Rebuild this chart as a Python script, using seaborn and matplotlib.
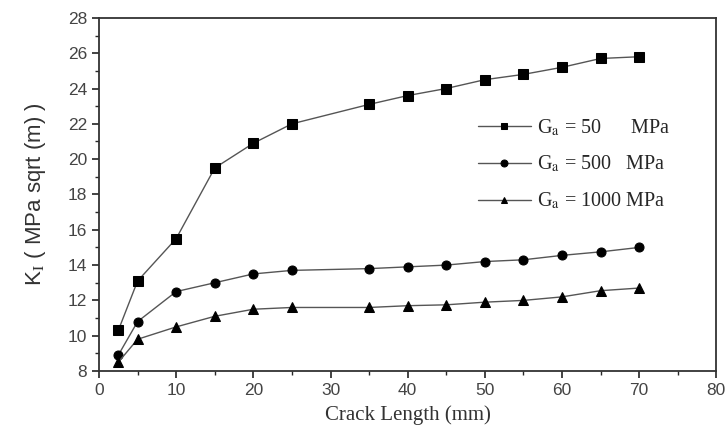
import matplotlib
matplotlib.use("Agg")
import matplotlib.pyplot as plt
import seaborn as sns
import pandas as pd
from matplotlib.ticker import MultipleLocator

crack_length = [2.5, 5, 10, 15, 20, 25, 35, 40, 45, 50, 55, 60, 65, 70]
k_ga50 = [10.3, 13.1, 15.5, 19.5, 20.9, 22.0, 23.1, 23.6, 24.0, 24.5, 24.8, 25.2, 25.7, 25.8]
k_ga500 = [8.9, 10.8, 12.5, 13.0, 13.5, 13.7, 13.8, 13.9, 14.0, 14.2, 14.3, 14.55, 14.75, 15.0]
k_ga1000 = [8.5, 9.8, 10.5, 11.1, 11.5, 11.6, 11.6, 11.7, 11.75, 11.9, 12.0, 12.2, 12.55, 12.7]
series_labels = [r"G$_\mathrm{a}$ = 50      MPa", r"G$_\mathrm{a}$ = 500   MPa", r"G$_\mathrm{a}$ = 1000 MPa"]
markers = ["s", "o", "^"]

x_ticks = [0, 10, 20, 30, 40, 50, 60, 70, 80]
y_ticks = [8, 10, 12, 14, 16, 18, 20, 22, 24, 26, 28]

sns.set_theme(style="ticks")
plt.rcParams["mathtext.fontset"] = "stix"

fig = plt.figure(figsize=(7.28, 4.36), dpi=100)
ax = fig.add_axes([0.136, 0.149, 0.848, 0.81])

for vals, lab, mk in zip([k_ga50, k_ga500, k_ga1000], series_labels, markers):
    df = pd.DataFrame({"x": crack_length, "y": vals})
    sns.lineplot(data=df, x="x", y="y", ax=ax, color="#555555", linewidth=1.0,
                 marker=mk, markersize=6.5, markerfacecolor="black",
                 markeredgecolor="black", label=lab)

ax.set_xlim(0, 80)
ax.set_ylim(8, 28)
ax.set_xticks(x_ticks)
ax.set_yticks(y_ticks)
ax.xaxis.set_minor_locator(MultipleLocator(5))
ax.yaxis.set_minor_locator(MultipleLocator(1))
ax.tick_params(axis="both", which="major", direction="out", length=5, width=1.2,
               labelsize=12.5, colors="#222222", labelcolor="#444444", top=False, right=False)
ax.tick_params(axis="both", which="minor", direction="out", length=3, width=1.0,
               top=False, right=False)
for lab in ax.get_xticklabels() + ax.get_yticklabels():
    lab.set_family(["Liberation Sans", "DejaVu Sans"])

for s in ax.spines.values():
    s.set_visible(True)
    s.set_linewidth(1.3)
    s.set_color("#333333")

ax.set_xlabel("Crack Length (mm)", fontsize=15, family="Liberation Serif", color="#333333", labelpad=5)
ax.set_ylabel(r"K$_\mathrm{I}$ ( MPa sqrt (m) )", fontsize=16, family="Liberation Sans", color="#333333", labelpad=14)

leg = ax.legend(loc="center left", bbox_to_anchor=(0.585, 0.585), frameon=False,
                prop={"family": "Liberation Serif", "size": 14.5}, handlelength=2.6,
                handletextpad=0.3, labelspacing=0.8)
for h in leg.legend_handles:
    h.set_markersize(5)

fig.savefig("out.png", dpi=100)
